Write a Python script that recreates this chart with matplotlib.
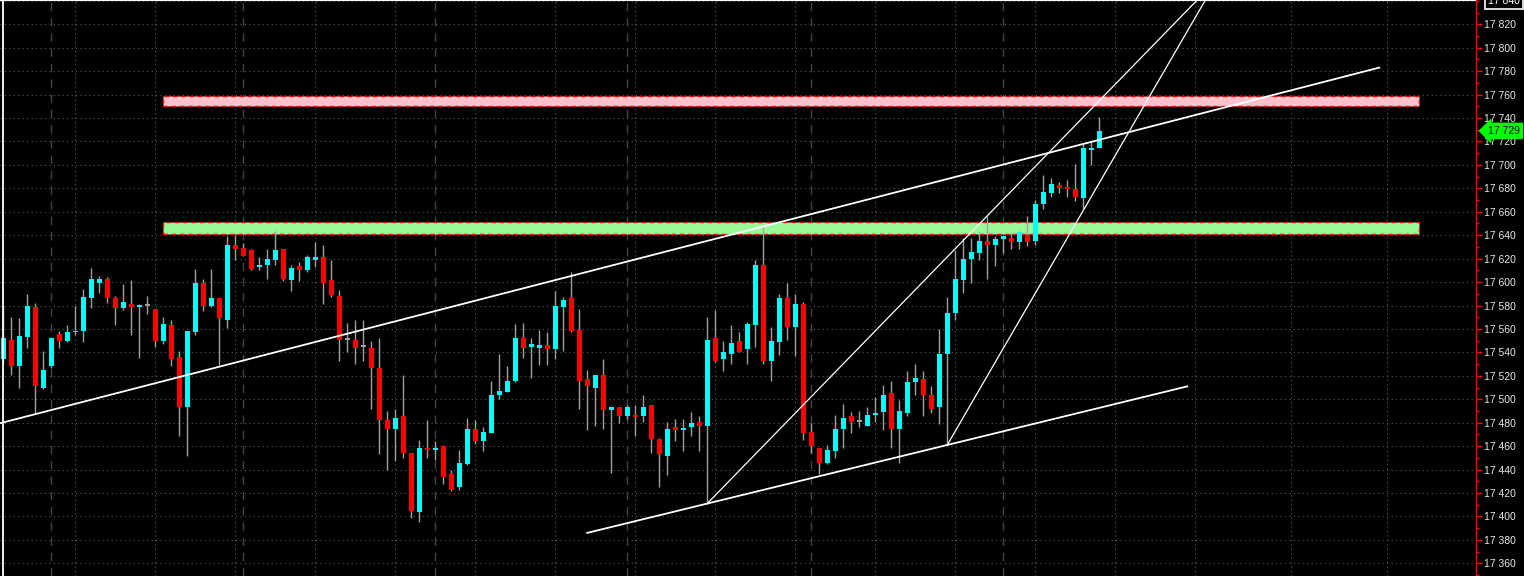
import numpy as np
import matplotlib.pyplot as plt
from matplotlib.patches import Rectangle
from matplotlib.ticker import FixedLocator, MultipleLocator, FuncFormatter
import matplotlib.transforms as mtransforms

# свечи: open / high / low / close
opens = [17534, 17551, 17528, 17553, 17579, 17510, 17528, 17556, 17550, 17557,
         17558, 17586, 17599, 17603, 17586, 17578, 17581, 17579, 17580, 17577,
         17550, 17563, 17536, 17493, 17557, 17599, 17580, 17586, 17568, 17632,
         17629, 17627, 17613, 17615, 17619, 17628, 17602, 17614, 17610, 17619,
         17621, 17602, 17588, 17551, 17551, 17545, 17544, 17527, 17482, 17475,
         17486, 17454, 17404, 17458, 17457, 17460, 17436, 17425, 17445, 17475,
         17464, 17471, 17504, 17506, 17516, 17552, 17545, 17544, 17546, 17543,
         17579, 17586, 17559, 17517, 17510, 17521, 17491, 17493, 17486, 17487,
         17486, 17495, 17466, 17452, 17476, 17474, 17476, 17481, 17477, 17552,
         17534, 17539, 17550, 17543, 17563, 17615, 17533, 17549, 17586, 17562,
         17581, 17472, 17458, 17446, 17456, 17475, 17486, 17481, 17477, 17487,
         17489, 17505, 17475, 17488, 17515, 17517, 17504, 17493, 17539, 17574,
         17602, 17620, 17625, 17635, 17632, 17637, 17638, 17634, 17640, 17635,
         17667, 17676, 17683, 17681, 17679, 17672, 17713, 17714]
highs = [17580, 17570, 17569, 17590, 17582, 17541, 17553, 17558, 17563, 17580,
         17594, 17612, 17605, 17604, 17588, 17598, 17602, 17581, 17588, 17577,
         17570, 17568, 17541, 17558, 17611, 17603, 17611, 17586, 17639, 17640,
         17633, 17628, 17621, 17628, 17644, 17628, 17615, 17617, 17623, 17634,
         17632, 17619, 17593, 17565, 17568, 17568, 17550, 17552, 17490, 17492,
         17521, 17454, 17465, 17482, 17464, 17461, 17440, 17457, 17484, 17482,
         17476, 17516, 17539, 17528, 17564, 17565, 17552, 17559, 17557, 17592,
         17587, 17609, 17577, 17525, 17521, 17534, 17494, 17493, 17495, 17495,
         17504, 17495, 17467, 17481, 17483, 17483, 17489, 17486, 17570, 17576,
         17550, 17563, 17557, 17566, 17619, 17649, 17562, 17590, 17599, 17590,
         17583, 17480, 17458, 17461, 17487, 17496, 17489, 17490, 17493, 17502,
         17512, 17516, 17499, 17524, 17530, 17524, 17511, 17560, 17587, 17627,
         17638, 17638, 17643, 17656, 17639, 17639, 17641, 17644, 17656, 17670,
         17691, 17689, 17685, 17687, 17701, 17718, 17720, 17741]
lows = [17531, 17521, 17510, 17544, 17488, 17509, 17527, 17544, 17549, 17555,
        17549, 17578, 17591, 17582, 17563, 17576, 17555, 17535, 17573, 17545,
        17547, 17528, 17469, 17452, 17555, 17575, 17579, 17529, 17561, 17619,
        17622, 17610, 17610, 17603, 17615, 17601, 17592, 17601, 17609, 17613,
        17581, 17587, 17533, 17540, 17530, 17533, 17492, 17453, 17440, 17447,
        17450, 17399, 17395, 17450, 17448, 17428, 17422, 17423, 17444, 17462,
        17456, 17471, 17500, 17506, 17515, 17535, 17518, 17529, 17529, 17534,
        17541, 17557, 17492, 17474, 17477, 17475, 17437, 17480, 17483, 17469,
        17481, 17454, 17425, 17435, 17464, 17456, 17469, 17456, 17411, 17532,
        17524, 17530, 17540, 17530, 17545, 17530, 17516, 17538, 17551, 17537,
        17465, 17454, 17436, 17445, 17450, 17458, 17471, 17476, 17477, 17481,
        17474, 17458, 17446, 17486, 17504, 17486, 17488, 17479, 17461, 17568,
        17591, 17599, 17619, 17603, 17614, 17625, 17628, 17628, 17631, 17632,
        17662, 17673, 17676, 17673, 17669, 17662, 17700, 17714]
closes = [17552, 17528, 17554, 17580, 17511, 17525, 17552, 17550, 17557, 17558,
          17587, 17603, 17603, 17586, 17578, 17583, 17579, 17580, 17580, 17550,
          17564, 17534, 17493, 17558, 17599, 17580, 17586, 17569, 17632, 17628,
          17622, 17611, 17615, 17620, 17627, 17603, 17612, 17610, 17621, 17621,
          17599, 17589, 17551, 17551, 17544, 17545, 17527, 17482, 17475, 17484,
          17454, 17405, 17458, 17457, 17458, 17434, 17423, 17446, 17475, 17464,
          17472, 17504, 17507, 17516, 17552, 17544, 17547, 17546, 17543, 17580,
          17585, 17558, 17516, 17511, 17521, 17491, 17493, 17486, 17493, 17485,
          17493, 17466, 17453, 17475, 17474, 17475, 17480, 17477, 17551, 17533,
          17540, 17548, 17540, 17564, 17615, 17533, 17550, 17586, 17562, 17581,
          17471, 17460, 17446, 17457, 17475, 17484, 17481, 17481, 17487, 17488,
          17504, 17475, 17490, 17515, 17518, 17504, 17492, 17539, 17574, 17603,
          17620, 17626, 17635, 17632, 17637, 17639, 17634, 17643, 17634, 17667,
          17677, 17684, 17680, 17679, 17673, 17714, 17714, 17729]

last_price = 17729
top_price = 17840

# уровни (зоны) и трендовые линии: (i1, p1, i2, p2)
zone_pink = (20, 177, 17750, 17759)
zone_green = (20, 177, 17641, 17651)
trend_thick = [(-1, 17478.5, 172, 17783), (73, 17386, 148, 17511)]
trend_thin = [(88, 17411, 155, 17881), (118, 17461, 152, 17861)]

day_sep = [6, 30, 54, 78, 101, 125]
vgrid = [9, 19, 29, 39, 49, 59, 69, 79, 89, 99, 109, 119, 129, 139, 149, 161, 173]

W, H = 1524, 576
fig = plt.figure(figsize=(W / 100, H / 100), dpi=100, facecolor='black')
ax = fig.add_axes([0, 0, 1476 / W, 1])
ax.set_facecolor('black')

x = np.arange(len(opens))
o = np.array(opens)
c = np.array(closes)

# сетка
for v in range(17360, 17841, 20):
    ax.axhline(v, color='#5a5a5a', lw=0.8, ls=(0, (1, 3)), zorder=0)
for v in vgrid:
    ax.axvline(v, color='#5a5a5a', lw=0.8, ls=(0, (1, 3)), zorder=0)
for v in day_sep:
    ax.axvline(v, color='#444444', lw=1.0, ls=(0, (6, 5)), zorder=0)

# зоны
for i1, i2, p1, p2 in (zone_pink, zone_green):
    col = '#ffc0cb' if p1 > 17700 else '#98fb98'
    ax.add_patch(Rectangle((i1, p1), i2 - i1, p2 - p1, facecolor=col,
                           edgecolor='red', lw=1, ls=(0, (3, 3)), zorder=1))

# свечи
ax.vlines(x, lows, highs, color='#a0a0a0', lw=1, zorder=2)
colors = np.where(c > o, '#00ffff', np.where(c < o, '#ff0000', '#a0a0a0'))
body = np.maximum(np.abs(c - o), 1.2)
ax.bar(x, body, bottom=np.minimum(o, c), width=0.65, color=colors, zorder=3)

# линии тренда
for i1, p1, i2, p2 in trend_thick:
    ax.plot([i1, i2], [p1, p2], color='white', lw=1.3, zorder=4)
for i1, p1, i2, p2 in trend_thin:
    ax.plot([i1, i2], [p1, p2], color='white', lw=0.9, zorder=4)

# перекрестие
ax.axvline(0, color='white', lw=1.3, zorder=5)
ax.axhline(top_price + 0.5, color='white', lw=1.5, zorder=5)

ax.set_xlim(-0.41, 184.1)
ax.set_ylim(17349.2, 17840.7)

for s in ('left', 'top', 'bottom'):
    ax.spines[s].set_visible(False)
ax.spines['right'].set_color('red')
ax.spines['right'].set_linewidth(1)
ax.set_xticks([])
ax.yaxis.tick_right()
ax.yaxis.set_major_locator(FixedLocator(list(range(17360, 17821, 20))))
ax.yaxis.set_minor_locator(MultipleLocator(10))
ax.yaxis.set_major_formatter(FuncFormatter(lambda v, p: f"{int(v):,}".replace(",", " ")))
ax.tick_params(axis='y', which='major', colors='red', length=4, width=1, pad=2,
               labelcolor='#e8e8e8', labelsize=7.5)
ax.tick_params(axis='y', which='minor', colors='red', length=2, width=1)
for lab in ax.get_yticklabels():
    lab.set_family('Liberation Sans')

tr = mtransforms.blended_transform_factory(ax.transAxes, ax.transData)
ax.text(1.008, last_price, f"{last_price:,}".replace(",", " "), transform=tr,
        fontsize=7.5, family='Liberation Sans', color='black', va='center', ha='left',
        bbox=dict(boxstyle='larrow,pad=0.25', fc='#00ff00', ec='#00ff00'),
        clip_on=False, zorder=10)
ax.text(1.008, top_price, f"{top_price:,}".replace(",", " "), transform=tr,
        fontsize=7.5, family='Liberation Sans', color='white', va='center', ha='left',
        bbox=dict(boxstyle='square,pad=0.3', fc='black', ec='white', lw=1.2),
        clip_on=False, zorder=10)

fig.savefig('out.png', dpi=100, facecolor='black')
